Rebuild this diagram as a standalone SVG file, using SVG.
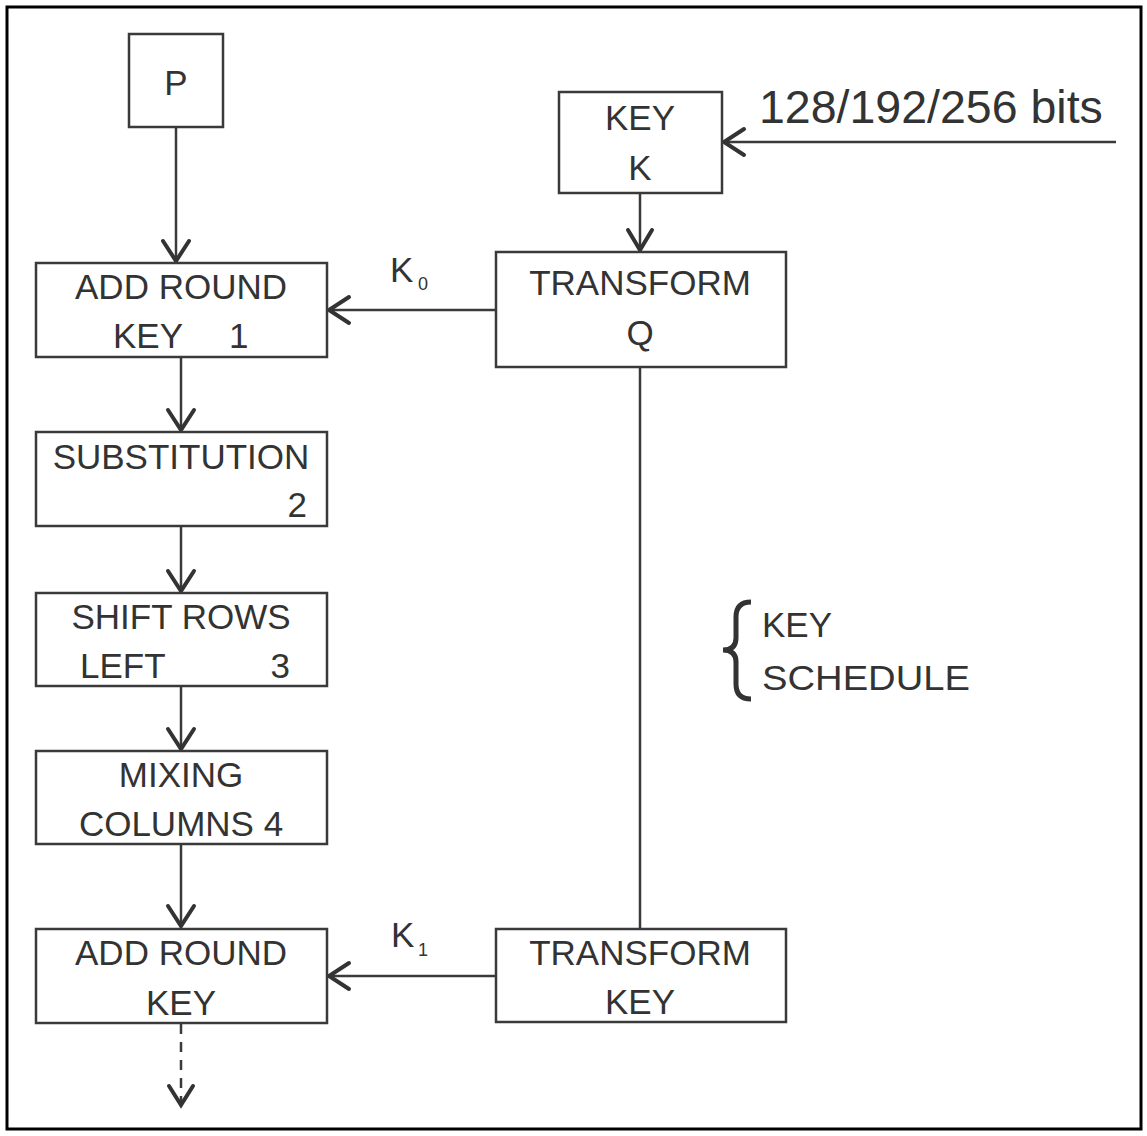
<svg xmlns="http://www.w3.org/2000/svg" width="1147" height="1136" viewBox="0 0 1147 1136">
<style>
.box{fill:#fff;stroke:#3a3a3a;stroke-width:2.5}
.ln{fill:none;stroke:#3a3a3a;stroke-width:2.5}
.hd{fill:none;stroke:#333;stroke-width:4;stroke-linecap:round;stroke-linejoin:miter}
.t{font-family:"Liberation Sans",Arial,sans-serif;font-size:35px;fill:#333}
.m{text-anchor:middle}
.e{text-anchor:end}
.sub{font-size:18px}
</style>
<rect x="0" y="0" width="1147" height="1136" fill="#fff"/>
<rect x="7" y="7" width="1134" height="1122" fill="none" stroke="#000" stroke-width="3"/>
<g id="connectors">
<line class="ln" x1="176" y1="127" x2="176" y2="261"/>
<polyline class="hd" points="163,241 176,261 189,241"/>
<line class="ln" x1="181" y1="357" x2="181" y2="430"/>
<polyline class="hd" points="168,410 181,430 194,410"/>
<line class="ln" x1="181" y1="526" x2="181" y2="591"/>
<polyline class="hd" points="168,571 181,591 194,571"/>
<line class="ln" x1="181" y1="686" x2="181" y2="749"/>
<polyline class="hd" points="168,729 181,749 194,729"/>
<line class="ln" x1="181" y1="844" x2="181" y2="926"/>
<polyline class="hd" points="168,906 181,926 194,906"/>
<line class="ln" x1="181" y1="1024" x2="181" y2="1104" stroke-dasharray="10,8"/>
<polyline class="hd" points="169,1086 181,1105 193,1086"/>
<line class="ln" x1="1116" y1="142" x2="724" y2="142"/>
<polyline class="hd" points="744,129 724,142 744,155"/>
<line class="ln" x1="640" y1="193" x2="640" y2="250"/>
<polyline class="hd" points="628,230 640,250 652,230"/>
<line class="ln" x1="496" y1="310" x2="329" y2="310"/>
<polyline class="hd" points="349,297 329,310 349,323"/>
<line class="ln" x1="640" y1="367" x2="640" y2="929"/>
<line class="ln" x1="496" y1="976" x2="329" y2="976"/>
<polyline class="hd" points="349,963 329,976 349,989"/>
</g>
<g id="p">
<rect class="box" x="129" y="34" width="94" height="93"/>
<text class="t m" x="176" y="95">P</text>
</g>
<g id="add-round-key-1">
<rect class="box" x="36" y="263" width="291" height="94"/>
<text class="t m" x="181" y="299">ADD ROUND</text>
<text class="t" x="113" y="348">KEY</text>
<text class="t" x="229" y="348">1</text>
</g>
<g id="substitution">
<rect class="box" x="36" y="432" width="291" height="94"/>
<text class="t m" x="181" y="469">SUBSTITUTION</text>
<text class="t e" x="307" y="517">2</text>
</g>
<g id="shift-rows">
<rect class="box" x="36" y="593" width="291" height="93"/>
<text class="t m" x="181" y="629">SHIFT ROWS</text>
<text class="t" x="80" y="678">LEFT</text>
<text class="t e" x="290" y="678">3</text>
</g>
<g id="mixing-columns">
<rect class="box" x="36" y="751" width="291" height="93"/>
<text class="t m" x="181" y="787">MIXING</text>
<text class="t m" x="181" y="836">COLUMNS 4</text>
</g>
<g id="add-round-key">
<rect class="box" x="36" y="929" width="291" height="94"/>
<text class="t m" x="181" y="965">ADD ROUND</text>
<text class="t m" x="181" y="1015">KEY</text>
</g>
<g id="key-k">
<rect class="box" x="559" y="92" width="163" height="101"/>
<text class="t m" x="640" y="130">KEY</text>
<text class="t m" x="640" y="180">K</text>
</g>
<g id="bits">
<text class="t" x="759" y="123" style="font-size:46.5px">128/192/256 bits</text>
</g>
<g id="transform-q">
<rect class="box" x="496" y="252" width="290" height="115"/>
<text class="t m" x="640" y="295">TRANSFORM</text>
<text class="t m" x="640" y="345">Q</text>
</g>
<g id="transform-key">
<rect class="box" x="496" y="929" width="290" height="93"/>
<text class="t m" x="640" y="965">TRANSFORM</text>
<text class="t m" x="640" y="1014">KEY</text>
</g>
<g id="k0">
<text class="t" x="390" y="282">K</text>
<text class="t sub" x="418" y="290">0</text>
</g>
<g id="k1">
<text class="t" x="391" y="947">K</text>
<text class="t sub" x="418" y="956">1</text>
</g>
<g id="key-schedule">
<path d="M751,602 Q736,602 736,617 L736,638 Q736,650 723,650 Q736,650 736,662 L736,684 Q736,699 751,699" fill="none" stroke="#333" stroke-width="5"/>
<text class="t" x="762" y="637">KEY</text>
<text class="t" x="762" y="690" textLength="208" lengthAdjust="spacingAndGlyphs">SCHEDULE</text>
</g>
</svg>
